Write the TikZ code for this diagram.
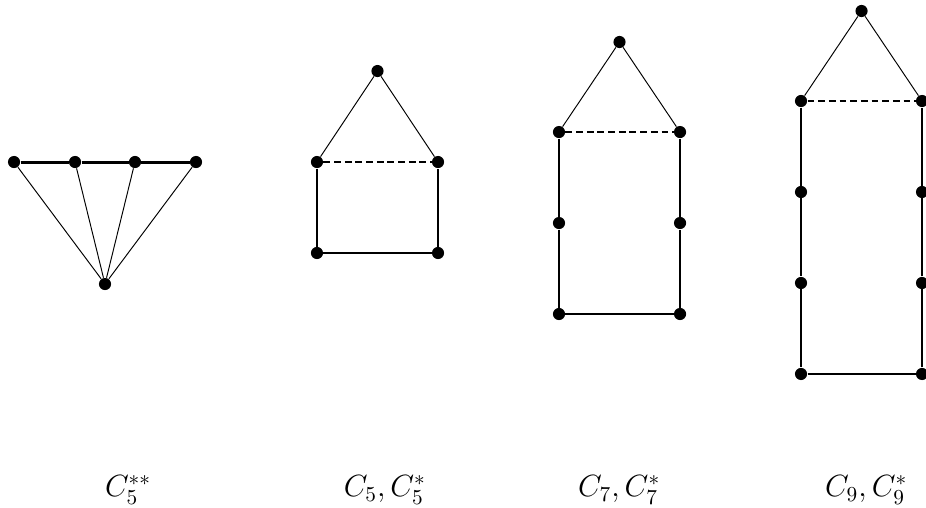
\documentclass[tikz,border=0pt]{standalone}
\usepackage{tikz}
\usetikzlibrary{calc}
\newcommand{\fsLabel}{\fontsize{14}{16}\selectfont}

\begin{document}
\begin{tikzpicture}[
    vtx/.style={circle, fill=black, inner sep=0pt, minimum size=0.2cm},
    thinedge/.style={line width=0.45pt},
    rimedge/.style={line width=0.9pt},
    topedge/.style={line width=1.4pt},
    hatedge/.style={line width=0.9pt, dash pattern=on 3.2pt off 1.8pt},
    every node/.style={font=\fsLabel}]
  \useasboundingbox (0,0) rectangle (15.255,-8.353);

  % fan C5**
  \foreach \i/\x in {1/0.231,2/1.236,3/2.224,4/3.229}
    \node[vtx] (f\i) at (\x,-2.669) {};
  \node[vtx] (fb) at (1.730,-4.679) {};
  \draw[topedge] (f1) -- (f2) -- (f3) -- (f4);
  \foreach \i in {1,...,4}
    \draw[thinedge] (f\i) -- (fb);
  \node (lf) at (2.11,-8.07) {$C_5^{**}$};

  % house C5
  \node[vtx] (at) at (6.219,-1.170) {};
  \node[vtx] (al1) at (5.222,-2.669) {};
  \node[vtx] (ar1) at (7.216,-2.669) {};
  \node[vtx] (al2) at (5.222,-4.168) {};
  \node[vtx] (ar2) at (7.216,-4.168) {};
  \draw[thinedge] (al1) -- (at) -- (ar1);
  \draw[hatedge] (al1) -- (ar1);
  \draw[rimedge] (al1) -- (al2) -- (ar2) -- (ar1);
  \node (la) at (6.34,-8.07) {$C_5,C_5^{*}$};

  % house C7
  \node[vtx] (bt) at (10.206,-0.692) {};
  \foreach \j/\y in {1/-2.175,2/-3.674,3/-5.173}{
    \node[vtx] (bl\j) at (9.209,\y) {};
    \node[vtx] (br\j) at (11.203,\y) {};
  }
  \draw[thinedge] (bl1) -- (bt) -- (br1);
  \draw[hatedge] (bl1) -- (br1);
  \draw[rimedge] (bl1) -- (bl2) -- (bl3) -- (br3) -- (br2) -- (br1);
  \node (lb) at (10.2,-8.07) {$C_7,C_7^{*}$};

  % house C9
  \node[vtx] (ct) at (14.193,-0.181) {};
  \foreach \j/\y in {1/-1.664,2/-3.163,3/-4.662,4/-6.161}{
    \node[vtx] (cl\j) at (13.196,\y) {};
    \node[vtx] (cr\j) at (15.190,\y) {};
  }
  \draw[thinedge] (cl1) -- (ct) -- (cr1);
  \draw[hatedge] (cl1) -- (cr1);
  \draw[rimedge] (cl1) -- (cl2) -- (cl3) -- (cl4) -- (cr4) -- (cr3) -- (cr2) -- (cr1);
  \node (lc) at (14.27,-8.07) {$C_9,C_9^{*}$};
\end{tikzpicture}
\end{document}
